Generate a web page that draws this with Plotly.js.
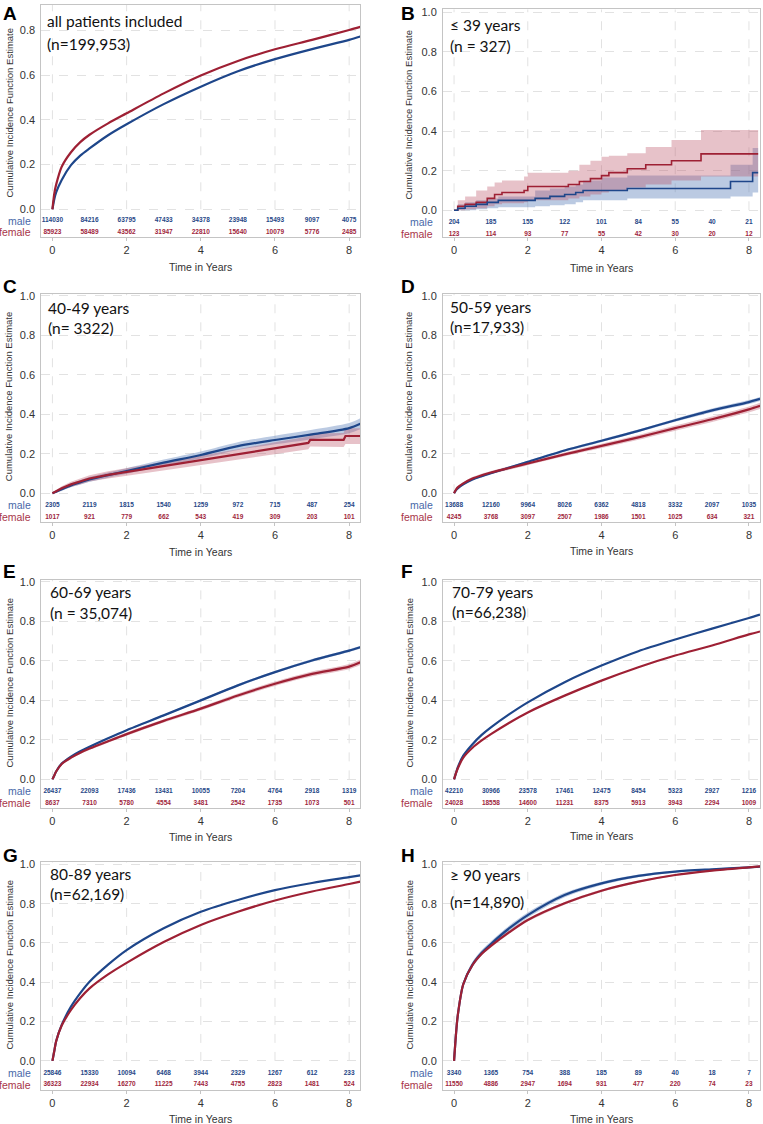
<!DOCTYPE html>
<html>
<head>
<meta charset="utf-8">
<script src="https://cdn.plot.ly/plotly-3.0.1.min.js"></script>
<style>
  body { margin: 0; background: #fff; }
  #chart { width: 763px; height: 1124px; }
</style>
</head>
<body>
<div id="chart"></div>
<script>
const tGrid = [0, 0.05, 0.1, 0.25, 0.5, 0.75, 1, 1.5, 2, 3, 4, 5, 6, 7, 8, 8.3];
const riskYears = [0, 1, 2, 3, 4, 5, 6, 7, 8];

// A - all patients
const maleA   = [0, 0.045, 0.075, 0.131, 0.197, 0.24, 0.272, 0.331, 0.38, 0.47, 0.548, 0.617, 0.671, 0.716, 0.757, 0.772];
const femaleA = [0, 0.07, 0.11, 0.19, 0.255, 0.3, 0.333, 0.384, 0.429, 0.518, 0.598, 0.663, 0.715, 0.757, 0.801, 0.815];
const riskMaleA   = [114030, 84216, 63795, 47433, 34378, 23948, 15493, 9097, 4075];
const riskFemaleA = [85923, 58489, 43562, 31947, 22810, 15640, 10079, 5776, 2485];

// B - <= 39 years (step functions)
const tMaleB  = [0, 0.1, 0.3, 0.6, 0.9, 1.2, 2.2, 2.6, 3.0, 3.3, 3.5, 4.0, 4.7, 7.5, 8.1, 8.25];
const maleB   = [0, 0.01, 0.02, 0.03, 0.04, 0.05, 0.06, 0.07, 0.08, 0.09, 0.10, 0.10, 0.11, 0.145, 0.19, 0.19];
const maleLoB = [0, 0, 0, 0.005, 0.01, 0.015, 0.02, 0.025, 0.03, 0.04, 0.05, 0.05, 0.06, 0.07, 0.09, 0.09];
const maleHiB = [0, 0.03, 0.04, 0.05, 0.06, 0.07, 0.10, 0.11, 0.12, 0.13, 0.15, 0.165, 0.175, 0.23, 0.315, 0.315];
const tFemaleB  = [0, 0.1, 0.3, 0.6, 0.9, 1.1, 1.3, 1.9, 2.0, 3.1, 3.4, 3.7, 4.0, 4.2, 4.7, 5.2, 5.9, 6.7, 8.25];
const femaleB   = [0, 0.02, 0.03, 0.04, 0.06, 0.08, 0.09, 0.10, 0.12, 0.13, 0.145, 0.16, 0.175, 0.19, 0.21, 0.23, 0.25, 0.285, 0.285];
const femaleLoB = [0, 0, 0.005, 0.01, 0.02, 0.03, 0.035, 0.04, 0.05, 0.06, 0.07, 0.08, 0.09, 0.10, 0.115, 0.13, 0.15, 0.17, 0.17];
const femaleHiB = [0, 0.05, 0.07, 0.10, 0.12, 0.14, 0.15, 0.17, 0.19, 0.20, 0.23, 0.25, 0.27, 0.275, 0.288, 0.32, 0.355, 0.405, 0.405];
const riskMaleB   = [204, 185, 155, 122, 101, 84, 55, 40, 21];
const riskFemaleB = [123, 114, 93, 77, 55, 42, 30, 20, 12];

// C - 40-49 years
const maleC   = [0, 0.004, 0.008, 0.02, 0.04, 0.055, 0.07, 0.092, 0.113, 0.155, 0.194, 0.239, 0.27, 0.298, 0.33, 0.352];
const ciMaleC = [0, 0.003, 0.005, 0.008, 0.01, 0.011, 0.012, 0.013, 0.014, 0.016, 0.018, 0.02, 0.022, 0.024, 0.026, 0.028];
const tFemaleC  = [0, 0.05, 0.1, 0.25, 0.5, 0.75, 1, 1.5, 2, 3, 4, 5, 6, 6.9, 6.95, 7.85, 7.9, 8.3];
const femaleC   = [0, 0.005, 0.01, 0.025, 0.045, 0.06, 0.075, 0.093, 0.108, 0.138, 0.168, 0.197, 0.23, 0.255, 0.27, 0.27, 0.29, 0.29];
const ciFemaleC = [0, 0.004, 0.007, 0.01, 0.013, 0.015, 0.016, 0.018, 0.019, 0.021, 0.023, 0.026, 0.029, 0.032, 0.033, 0.035, 0.04, 0.04];
const riskMaleC   = [2305, 2119, 1815, 1540, 1259, 972, 715, 487, 254];
const riskFemaleC = [1017, 921, 779, 662, 543, 419, 309, 203, 101];

// D - 50-59 years
const maleD   = [0, 0.015, 0.025, 0.045, 0.07, 0.087, 0.102, 0.13, 0.159, 0.217, 0.266, 0.316, 0.37, 0.42, 0.462, 0.478];
const ciMaleD = [0, 0.002, 0.003, 0.004, 0.004, 0.005, 0.005, 0.005, 0.006, 0.006, 0.007, 0.007, 0.008, 0.009, 0.01, 0.01];
const femaleD   = [0, 0.018, 0.03, 0.05, 0.075, 0.091, 0.105, 0.128, 0.151, 0.197, 0.24, 0.283, 0.33, 0.375, 0.425, 0.443];
const ciFemaleD = [0, 0.003, 0.004, 0.006, 0.007, 0.008, 0.008, 0.009, 0.009, 0.01, 0.011, 0.012, 0.013, 0.014, 0.015, 0.016];
const riskMaleD   = [13688, 12160, 9964, 8026, 6362, 4818, 3332, 2097, 1035];
const riskFemaleD = [4245, 3768, 3097, 2507, 1986, 1501, 1025, 634, 321];

// E - 60-69 years
const maleE   = [0, 0.02, 0.04, 0.08, 0.115, 0.142, 0.165, 0.208, 0.249, 0.324, 0.40, 0.476, 0.543, 0.602, 0.652, 0.669];
const ciMaleE = [0, 0.002, 0.002, 0.003, 0.003, 0.003, 0.004, 0.004, 0.004, 0.005, 0.005, 0.006, 0.006, 0.007, 0.007, 0.008];
const femaleE   = [0, 0.02, 0.04, 0.078, 0.11, 0.135, 0.156, 0.193, 0.229, 0.296, 0.358, 0.425, 0.484, 0.534, 0.571, 0.593];
const ciFemaleE = [0, 0.003, 0.004, 0.005, 0.006, 0.006, 0.007, 0.007, 0.008, 0.008, 0.009, 0.01, 0.011, 0.012, 0.013, 0.014];
const riskMaleE   = [26437, 22093, 17436, 13431, 10055, 7204, 4764, 2918, 1319];
const riskFemaleE = [8637, 7310, 5780, 4554, 3481, 2542, 1735, 1073, 501];

// F - 70-79 years
const maleF   = [0, 0.03, 0.06, 0.12, 0.178, 0.225, 0.263, 0.33, 0.39, 0.492, 0.576, 0.649, 0.708, 0.763, 0.817, 0.834];
const femaleF = [0, 0.03, 0.055, 0.11, 0.16, 0.197, 0.229, 0.287, 0.339, 0.424, 0.50, 0.568, 0.627, 0.678, 0.734, 0.749];
const riskMaleF   = [42210, 30966, 23578, 17461, 12475, 8454, 5323, 2927, 1216];
const riskFemaleF = [24028, 18558, 14600, 11231, 8375, 5913, 3943, 2294, 1009];

// G - 80-89 years
const maleG   = [0, 0.05, 0.1, 0.183, 0.276, 0.345, 0.403, 0.49, 0.564, 0.675, 0.759, 0.819, 0.869, 0.905, 0.935, 0.944];
const femaleG = [0, 0.05, 0.1, 0.18, 0.259, 0.32, 0.369, 0.44, 0.499, 0.605, 0.692, 0.759, 0.816, 0.862, 0.9, 0.912];
const riskMaleG   = [25846, 15330, 10094, 6468, 3944, 2329, 1267, 612, 233];
const riskFemaleG = [36323, 22934, 16270, 11225, 7443, 4755, 2823, 1481, 524];

// H - >= 90 years
const maleH   = [0, 0.13, 0.23, 0.39, 0.49, 0.55, 0.595, 0.675, 0.742, 0.844, 0.903, 0.941, 0.963, 0.975, 0.985, 0.988];
const ciMaleH = [0, 0.01, 0.012, 0.014, 0.014, 0.014, 0.014, 0.014, 0.013, 0.011, 0.009, 0.007, 0.005, 0.004, 0.003, 0.003];
const femaleH   = [0, 0.13, 0.23, 0.39, 0.488, 0.545, 0.585, 0.655, 0.717, 0.802, 0.866, 0.912, 0.946, 0.968, 0.985, 0.99];
const ciFemaleH = [0, 0.008, 0.009, 0.009, 0.009, 0.009, 0.008, 0.008, 0.008, 0.007, 0.006, 0.005, 0.004, 0.003, 0.002, 0.002];
const riskMaleH   = [3340, 1365, 754, 388, 185, 89, 40, 18, 7];
const riskFemaleH = [11550, 4886, 2947, 1694, 931, 477, 220, 74, 23];

const BLUE = 'rgb(30,70,138)';
const RED = 'rgb(158,32,52)';
const BLUE_BAND = 'rgba(75,115,180,0.38)';
const RED_BAND = 'rgba(185,80,100,0.35)';
const GRID = '#e2e2e2';
const W = 763, H = 1124;

// panel frames in pixels: left, right, top, bottom
const cols = [[41.3, 360.3], [443, 760]];
const panels = [
  { letter: 'A', col: 0, top: 5, bottom: 237, yTop: 0.913, yBot: -0.124, yMaxTick: 0.8,
    line1: 'all patients included', line2: '(n=199,953)', sub: [45, 21, 44],
    lt: 1, ytc: 113, xtc: 267, riskY: [-0.051, -0.103],
    male: { t: tGrid, y: maleA }, female: { t: tGrid, y: femaleA },
    riskM: riskMaleA, riskF: riskFemaleA },
  { letter: 'B', col: 1, top: 9.3, bottom: 237, yTop: 1.015, yBot: -0.135, yMaxTick: 1.0,
    line1: '\u2264 39 years', line2: '(n = 327)', sub: [448, 25, 45.7],
    lt: 1, ytc: 115, xtc: 268, riskY: [-0.061, -0.121],
    male: { t: tMaleB, y: maleB, lo: maleLoB, hi: maleHiB, step: true },
    female: { t: tFemaleB, y: femaleB, lo: femaleLoB, hi: femaleHiB, step: true },
    riskM: riskMaleB, riskF: riskFemaleB },
  { letter: 'C', col: 0, top: 293.5, bottom: 521.5, yTop: 1.012, yBot: -0.143, yMaxTick: 1.0,
    line1: '40-49 years', line2: '(n= 3322)', sub: [46, 307.7, 328],
    lt: 274, ytc: 396.7, xtc: 551.7, riskY: [-0.061, -0.121],
    male: { t: tGrid, y: maleC, ci: ciMaleC }, female: { t: tFemaleC, y: femaleC, ci: ciFemaleC, linear: true },
    riskM: riskMaleC, riskF: riskFemaleC },
  { letter: 'D', col: 1, top: 293.5, bottom: 521.5, yTop: 1.012, yBot: -0.143, yMaxTick: 1.0,
    line1: '50-59 years', line2: '(n=17,933)', sub: [448.3, 307, 326.7],
    lt: 274, ytc: 396.7, xtc: 550.7, riskY: [-0.061, -0.121],
    male: { t: tGrid, y: maleD, ci: ciMaleD }, female: { t: tGrid, y: femaleD, ci: ciFemaleD },
    riskM: riskMaleD, riskF: riskFemaleD },
  { letter: 'E', col: 0, top: 579.5, bottom: 808, yTop: 1.012, yBot: -0.145, yMaxTick: 1.0,
    line1: '60-69 years', line2: '(n = 35,074)', sub: [48.3, 592, 613],
    lt: 559, ytc: 683, xtc: 837.3, riskY: [-0.061, -0.121],
    male: { t: tGrid, y: maleE, ci: ciMaleE }, female: { t: tGrid, y: femaleE, ci: ciFemaleE },
    riskM: riskMaleE, riskF: riskFemaleE },
  { letter: 'F', col: 1, top: 579.5, bottom: 808, yTop: 1.012, yBot: -0.145, yMaxTick: 1.0,
    line1: '70-79 years', line2: '(n=66,238)', sub: [450, 591.7, 611.7],
    lt: 559, ytc: 683, xtc: 836, riskY: [-0.061, -0.121],
    male: { t: tGrid, y: maleF }, female: { t: tGrid, y: femaleF },
    riskM: riskMaleF, riskF: riskFemaleF },
  { letter: 'G', col: 0, top: 862.2, bottom: 1090, yTop: 1.011, yBot: -0.148, yMaxTick: 1.0,
    line1: '80-89 years', line2: '(n=62,169)', sub: [48.3, 874, 894],
    lt: 843, ytc: 965, xtc: 1119.3, riskY: [-0.061, -0.121],
    male: { t: tGrid, y: maleG }, female: { t: tGrid, y: femaleG },
    riskM: riskMaleG, riskF: riskFemaleG },
  { letter: 'H', col: 1, top: 862.2, bottom: 1090, yTop: 1.011, yBot: -0.148, yMaxTick: 1.0,
    line1: '\u2265 90 years', line2: '(n=14,890)', sub: [447.7, 875, 901.7],
    lt: 843, ytc: 965, xtc: 1119.3, riskY: [-0.061, -0.121],
    male: { t: tGrid, y: maleH, ci: ciMaleH }, female: { t: tGrid, y: femaleH, ci: ciFemaleH },
    riskM: riskMaleH, riskF: riskFemaleH }
];

const traces = [];
const layout = {
  width: W, height: H,
  margin: { l: 0, r: 0, t: 0, b: 0 },
  paper_bgcolor: '#fff', plot_bgcolor: '#fff',
  showlegend: false,
  font: { family: 'Liberation Sans, Arial, sans-serif', color: '#333' },
  annotations: [],
  shapes: []
};

function px(x) { return x / W; }
function py(y) { return 1 - y / H; }

function bandTraces(s, xa, ya, color) {
  let lo, hi;
  if (s.lo) { lo = s.lo; hi = s.hi; }
  else if (s.ci) { lo = s.y.map((v, i) => Math.max(0, v - s.ci[i])); hi = s.y.map((v, i) => v + s.ci[i]); }
  else return;
  const shape = s.step ? 'hv' : (s.linear ? 'linear' : 'spline');
  traces.push({ x: s.t, y: lo, xaxis: xa, yaxis: ya, mode: 'lines', line: { width: 0, shape: shape, smoothing: 0.8 }, hoverinfo: 'skip' });
  traces.push({ x: s.t, y: hi, xaxis: xa, yaxis: ya, mode: 'lines', line: { width: 0, shape: shape, smoothing: 0.8 },
    fill: 'tonexty', fillcolor: color, hoverinfo: 'skip' });
}

function lineTrace(s, xa, ya, color) {
  let shape = 'spline';
  if (s.step) shape = 'hv';
  if (s.linear) shape = 'linear';
  traces.push({ x: s.t, y: s.y, xaxis: xa, yaxis: ya, mode: 'lines',
    line: { color: color, width: s.step ? 1.6 : 2.2, shape: shape, smoothing: 0.8 } });
}

panels.forEach((p, i) => {
  const n = i === 0 ? '' : String(i + 1);
  const xa = 'x' + n, ya = 'y' + n;
  const [L, R] = cols[p.col];
  const ticks = [];
  for (let v = 0; v <= p.yMaxTick + 1e-9; v += 0.2) ticks.push(+v.toFixed(1));
  const xticks = [0, 2, 4, 6, 8];

  layout['xaxis' + n] = {
    domain: [px(L), px(R)], anchor: ya, range: [-0.3, 8.3],
    tickvals: xticks, ticks: 'outside', ticklen: 3, tickcolor: '#c4c4c4',
    showline: true, mirror: true, linecolor: '#c4c4c4', linewidth: 1,
    showgrid: false, zeroline: false, tickfont: { size: 11, color: '#333' }, fixedrange: true
  };
  layout['yaxis' + n] = {
    domain: [py(p.bottom), py(p.top)], anchor: xa, range: [p.yBot, p.yTop],
    tickvals: ticks, tickformat: '.1f', ticks: 'outside', ticklen: 3, tickcolor: 'rgba(0,0,0,0)',
    showline: true, mirror: true, linecolor: '#c4c4c4', linewidth: 1,
    showgrid: true, gridcolor: GRID, griddash: 'dash', gridwidth: 1,
    zeroline: false, tickfont: { size: 11, color: '#333' }, fixedrange: true
  };

  // vertical grid only over the curve area, not the at-risk table
  xticks.forEach(t => {
    layout.shapes.push({ type: 'line', xref: xa, yref: ya, x0: t, x1: t, y0: 0, y1: p.yTop,
      line: { color: GRID, width: 1, dash: 'dash' }, layer: 'below' });
  });

  bandTraces(p.male, xa, ya, BLUE_BAND);
  bandTraces(p.female, xa, ya, RED_BAND);
  if (p.letter === 'B') {
    lineTrace(p.female, xa, ya, RED);
    lineTrace(p.male, xa, ya, BLUE);
  } else {
    lineTrace(p.male, xa, ya, BLUE);
    lineTrace(p.female, xa, ya, RED);
  }

  // numbers at risk
  traces.push({ x: riskYears, y: riskYears.map(() => p.riskY[0]), xaxis: xa, yaxis: ya, mode: 'text',
    text: p.riskM.map(String), textposition: 'middle center',
    textfont: { size: 6.5, color: 'rgb(40,72,135)', weight: 'bold' }, hoverinfo: 'skip' });
  traces.push({ x: riskYears, y: riskYears.map(() => p.riskY[1]), xaxis: xa, yaxis: ya, mode: 'text',
    text: p.riskF.map(String), textposition: 'middle center',
    textfont: { size: 6.5, color: 'rgb(160,38,60)', weight: 'bold' }, hoverinfo: 'skip' });

  const ann = layout.annotations;
  ann.push({ text: 'male', xref: 'paper', x: px(L), xshift: -8, xanchor: 'right', yref: ya, y: p.riskY[0],
    yanchor: 'middle', showarrow: false, font: { size: 10.5, color: 'rgb(72,104,168)' } });
  ann.push({ text: 'female', xref: 'paper', x: px(L), xshift: -8, xanchor: 'right', yref: ya, y: p.riskY[1],
    yanchor: 'middle', showarrow: false, font: { size: 10.5, color: 'rgb(168,52,72)' } });

  // panel letter
  ann.push({ text: '<b>' + p.letter + '</b>', xref: 'paper', yref: 'paper', x: px(p.col === 0 ? 1 : 399),
    y: py(p.lt), xanchor: 'left', yanchor: 'top', showarrow: false,
    font: { family: 'Liberation Sans, Arial, sans-serif', size: 19, color: '#000' } });

  // subgroup label
  ann.push({ text: p.line1, xref: 'paper', yref: 'paper', x: px(p.sub[0]), y: py(p.sub[1]),
    xanchor: 'left', yanchor: 'middle', showarrow: false, font: { family: 'Lato, sans-serif', size: 15.5, color: '#111' } });
  ann.push({ text: p.line2, xref: 'paper', yref: 'paper', x: px(p.sub[0]), y: py(p.sub[2]),
    xanchor: 'left', yanchor: 'middle', showarrow: false, font: { family: 'Lato, sans-serif', size: 15.5, color: '#111' } });

  // axis titles
  ann.push({ text: 'Cumulative Incidence Function Estimate', xref: 'paper', yref: 'paper',
    x: px(p.col === 0 ? 8.5 : 408.5), y: py(p.ytc), textangle: -90, xanchor: 'center', yanchor: 'middle',
    showarrow: false, font: { size: 9.5, color: '#333' } });
  ann.push({ text: 'Time in Years', xref: 'paper', yref: 'paper', x: px((L + R) / 2), y: py(p.xtc),
    xanchor: 'center', yanchor: 'middle', showarrow: false, font: { size: 10.5, color: '#333' } });
});

Plotly.newPlot('chart', traces, layout, { staticPlot: true });
</script>
</body>
</html>
